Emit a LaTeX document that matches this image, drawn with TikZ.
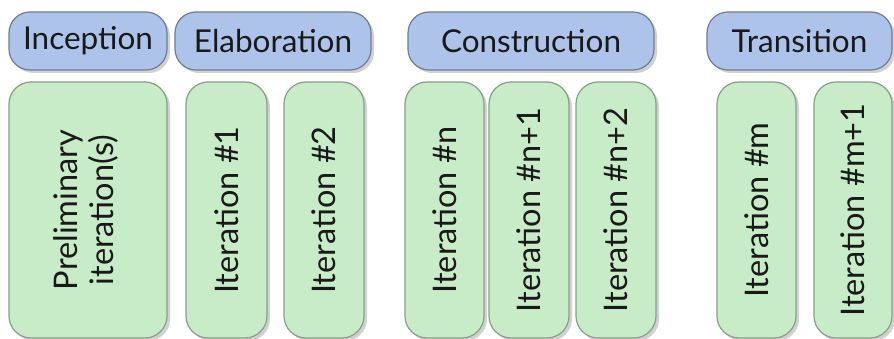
\documentclass[tikz,border=0pt]{standalone}
\usepackage{fontspec}
\setmainfont{Lato}
\usetikzlibrary{shadows}
\definecolor{phasefill}{HTML}{AEC3EA}
\definecolor{phasedraw}{HTML}{6D7D94}
\definecolor{iterfill}{HTML}{C8EBC8}
\definecolor{iterdraw}{HTML}{86A086}
\begin{document}
\begin{tikzpicture}[x=1pt,y=-1pt,
  shade/.style={drop shadow={shadow xshift=3pt,shadow yshift=-3pt,opacity=0.18,fill=black}},
  phase/.style={shade,draw=phasedraw,fill=phasefill,line width=1.2pt,rounded corners=21pt,
    inner sep=0pt,minimum height=58pt,font=\fontsize{31.5}{38}\selectfont,text=black!90},
  iter/.style={shade,draw=iterdraw,fill=iterfill,line width=1.2pt,rounded corners=22pt,
    inner sep=0pt,minimum height=256pt,font=\fontsize{32.5}{39}\selectfont,text=black!90}]
\useasboundingbox (0,0) rectangle (894,339);
\fill[white] (0,0) rectangle (894,339);
% phases
\node[phase,minimum width=158pt] (inc) at (88,41) {Inception};
\node[phase,minimum width=196pt] (ela) at (273,41) {Elaboration};
\node[phase,minimum width=246pt] (con) at (531,41) {Construction};
\node[phase,minimum width=185pt] (tra) at (799.5,41) {Transition};
% iterations
\node[iter,minimum width=158pt] (pre) at (88,210) {\rotatebox{90}{\begin{tabular}{@{}c@{}}Preliminary\\[-3pt]iteration(s)\end{tabular}}};
\node[iter,minimum width=81pt] (i1) at (226.5,210) {\rotatebox{90}{Iteration \#1}};
\node[iter,minimum width=80pt] (i2) at (324,210) {\rotatebox{90}{Iteration \#2}};
\node[iter,minimum width=79pt] (in) at (444.5,210) {\rotatebox{90}{Iteration \#n}};
\node[iter,minimum width=80pt] (in1) at (529,210) {\rotatebox{90}{Iteration \#n+1}};
\node[iter,minimum width=80pt] (in2) at (616,210) {\rotatebox{90}{Iteration \#n+2}};
\node[iter,minimum width=79pt] (im) at (756.5,210) {\rotatebox{90}{Iteration \#m}};
\node[iter,minimum width=78pt] (im1) at (853,210) {\rotatebox{90}{Iteration \#m+1}};
\end{tikzpicture}
\end{document}
